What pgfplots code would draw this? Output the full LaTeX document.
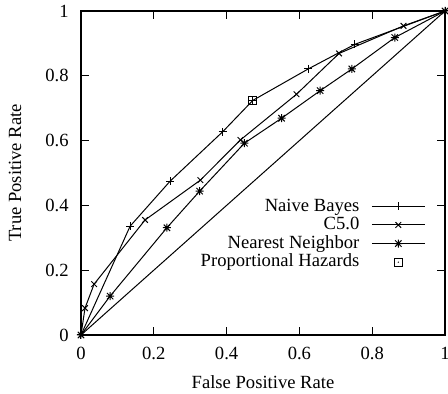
\documentclass[border=0pt]{standalone}
\usepackage{fontspec}
\setmainfont{Liberation Serif}
\usepackage{pgfplots}
\pgfplotsset{compat=1.18}
\pgfdeclareplotmark{plusx}{%
  \pgfpathmoveto{\pgfqpoint{-\pgfplotmarksize}{0pt}}\pgfpathlineto{\pgfqpoint{\pgfplotmarksize}{0pt}}%
  \pgfpathmoveto{\pgfqpoint{0pt}{-\pgfplotmarksize}}\pgfpathlineto{\pgfqpoint{0pt}{\pgfplotmarksize}}%
  \pgfpathmoveto{\pgfqpoint{-0.8\pgfplotmarksize}{-0.8\pgfplotmarksize}}\pgfpathlineto{\pgfqpoint{0.8\pgfplotmarksize}{0.8\pgfplotmarksize}}%
  \pgfpathmoveto{\pgfqpoint{-0.8\pgfplotmarksize}{0.8\pgfplotmarksize}}\pgfpathlineto{\pgfqpoint{0.8\pgfplotmarksize}{-0.8\pgfplotmarksize}}%
  \pgfusepathqstroke}
\pgfdeclareplotmark{sqdot}{%
  \pgfpathrectangle{\pgfqpoint{-\pgfplotmarksize}{-\pgfplotmarksize}}{\pgfqpoint{2\pgfplotmarksize}{2\pgfplotmarksize}}%
  \pgfusepathqstroke
  \pgfpathcircle{\pgfpointorigin}{0.35pt}\pgfusepathqfill}
\pgfplotsset{mylegimg/.style={legend image code/.code={\draw[mark repeat=2,mark phase=2,##1] plot coordinates {(0pt,0pt)(13.25pt,0pt)(26.5pt,0pt)};}}}
\begin{document}
\fontsize{9.3pt}{11pt}\selectfont
\begin{tikzpicture}
\begin{axis}[
  name=ax,
  scale only axis,
  width=182pt, height=162pt,
  xmin=0, xmax=1, ymin=0, ymax=1,
  xtick={0,0.2,0.4,0.6,0.8,1},
  ytick={0,0.2,0.4,0.6,0.8,1},
  tick align=inside,
  major tick length=4pt,
  axis line style={line width=0.9pt},
  every tick/.style={line width=0.6pt, black},
  /pgf/number format/assume math mode=true,
  ticklabel style={font=\fontsize{9.3pt}{11pt}\selectfont},
  xticklabel style={anchor=base, inner sep=0pt, yshift=-12.5pt},
  yticklabel style={anchor=east, inner sep=0pt, xshift=-6pt},
  xlabel={False Positive Rate},
  ylabel={True Positive Rate},
  label style={font=\fontsize{9.3pt}{11pt}\selectfont},
  xlabel style={at={(axis description cs:0.5,-0.1636)}, anchor=base, inner sep=0pt},
  ylabel style={at={(axis description cs:-0.1813,0.5)}, anchor=center, inner sep=0pt},
  legend plot pos=right,
  legend cell align=right,
  legend style={draw=none, fill=none, at={(axis cs:0.947,0.427)}, anchor=north east,
    inner sep=0pt, row sep=0pt, column sep=6pt,
    font=\fontsize{9.3pt}{11pt}\selectfont,
    nodes={inner sep=0pt, text height=7pt, text depth=2.3pt}},
  mylegimg,
  every axis plot/.append style={line width=0.5pt, black},
]
\addplot[mark=+, mark size=2pt] coordinates {
(0,0)(0.135,0.336)(0.245,0.475)(0.389,0.627)(0.472,0.724)(0.624,0.821)(0.752,0.897)(1,1)};
\addlegendentry{Naive Bayes}
\addplot[mark=x, mark size=2pt] coordinates {
(0,0)(0.011,0.083)(0.036,0.157)(0.176,0.355)(0.328,0.478)(0.438,0.602)(0.592,0.743)(0.709,0.869)(0.886,0.954)(1,1)};
\addlegendentry{C5.0}
\addplot[mark=plusx, mark size=2pt] coordinates {
(0,0)(0.080,0.120)(0.236,0.331)(0.326,0.444)(0.449,0.592)(0.551,0.669)(0.657,0.754)(0.744,0.821)(0.862,0.918)(1,1)};
\addlegendentry{Nearest Neighbor}
\addplot[only marks, mark=sqdot, mark size=2pt, mylegimg] coordinates {(0.472,0.724)};
\addlegendentry{Proportional Hazards}
\addplot[forget plot, mark=none] coordinates {(0,0)(1,1)};
\end{axis}
\pgfresetboundingbox
\path ([xshift=-40.5pt,yshift=-29.5pt]ax.south west) rectangle ([xshift=1.5pt,yshift=5.5pt]ax.north east);
\end{tikzpicture}
\end{document}
